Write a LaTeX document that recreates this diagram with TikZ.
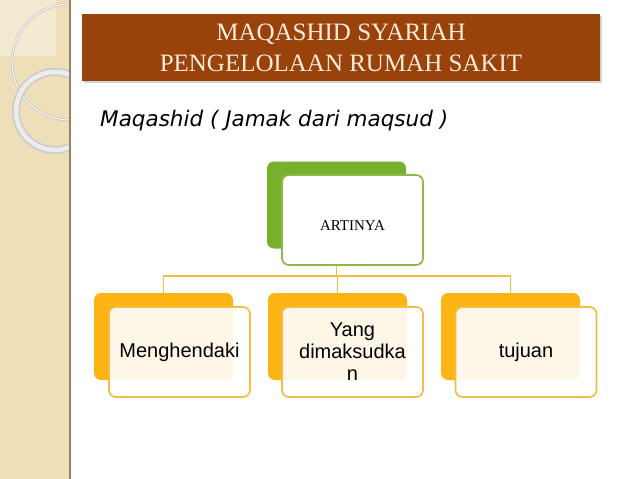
\documentclass[tikz,border=0pt]{standalone}
\usepackage{fontspec}
\setmainfont{Liberation Serif}
\newfontfamily\arialfont{Liberation Sans}
\newfontfamily\handfont{DejaVu Sans}
\usetikzlibrary{positioning,shadows}
\definecolor{bata}{HTML}{99420B}
\definecolor{krem}{HTML}{F8ECD8}
\definecolor{pasir}{HTML}{EFDFB9}
\definecolor{hijau}{HTML}{77B02A}
\definecolor{hijaumuda}{HTML}{8DB849}
\definecolor{jingga}{HTML}{FDB515}
\definecolor{garisjingga}{HTML}{F2BF45}

\begin{document}
\begin{tikzpicture}[x=1pt,y=-1pt,
  backbox/.style={rounded corners=7pt,minimum width=139pt,minimum height=87pt,inner sep=0pt},
  frontbox/.style={rounded corners=7pt,minimum width=141pt,minimum height=90pt,inner sep=0pt,
    align=center,line width=1.7pt},
  link/.style={garisjingga,line width=1.8pt}]
\useasboundingbox (0,0) rectangle (638,479);
\fill[white] (0,0) rectangle (638,479);

% strip kiri
\fill[pasir] (0,0) rectangle (70,479);
\fill[white,opacity=0.35] (0,0) rectangle (56,56);
\begin{scope}
  \clip (0,0) rectangle (70,479);
  \draw[gray!50,line width=2.4pt] (70,62) circle (58);
  \draw[white,line width=1pt] (70,62) circle (58);
  \draw[gray!40,line width=8pt] (55,111) circle (39);
  \draw[white!85!gray,line width=4.5pt] (55,111) circle (39);
\end{scope}
\draw[brown!45!gray,line width=1.5pt] (70,0) -- (70,479);

% judul
\node[fill=bata,drop shadow={opacity=0.35,shadow xshift=2pt,shadow yshift=-2pt},
  minimum width=518pt,minimum height=67pt,inner sep=0pt] (judul) at (341,47.5) {};
\node[text=krem,align=center,font=\fontsize{25}{31}\selectfont] (judultxt) at (341,48)
  {MAQASHID SYARIAH\\PENGELOLAAN RUMAH SAKIT};

\node[anchor=base west,inner sep=0pt,font=\handfont\fontsize{21.5}{24}\selectfont\itshape]
  (sub) at (100,126) {Maqashid ( Jamak dari maqsud )};

% bagan
\node[backbox,fill=hijau] (artback) at (336.5,205) {};
\node[backbox,fill=jingga] (b1) at (163.5,336.5) {};
\node[backbox,fill=jingga] (b2) at (337.5,336.5) {};
\node[backbox,fill=jingga] (b3) at (510.5,336.5) {};

\draw[link] (artback.south) -- ++(0,27) -| (b1.north);
\draw[link] (artback.south) -- ++(0,27) -| (b2.north);
\draw[link] (artback.south) -- ++(0,27) -| (b3.north);

\node[frontbox,draw=hijaumuda,fill=white,font=\fontsize{15}{17}\selectfont] (art) at (352.5,220)
  {\raisebox{-6pt}[\height][\depth]{ARTINYA}};

\node[frontbox,draw=garisjingga,fill=white,fill opacity=0.9,text opacity=1,
  font=\arialfont\fontsize{20}{22}\selectfont] (f1) at (179.5,352) {Menghendaki};
\node[frontbox,draw=garisjingga,fill=white,fill opacity=0.9,text opacity=1,
  font=\arialfont\fontsize{20}{22}\selectfont] (f2) at (352.5,352) {Yang\\dimaksudka\\n};
\node[frontbox,draw=garisjingga,fill=white,fill opacity=0.9,text opacity=1,
  font=\arialfont\fontsize{20}{22}\selectfont] (f3) at (526,352) {tujuan};
\end{tikzpicture}
\end{document}
